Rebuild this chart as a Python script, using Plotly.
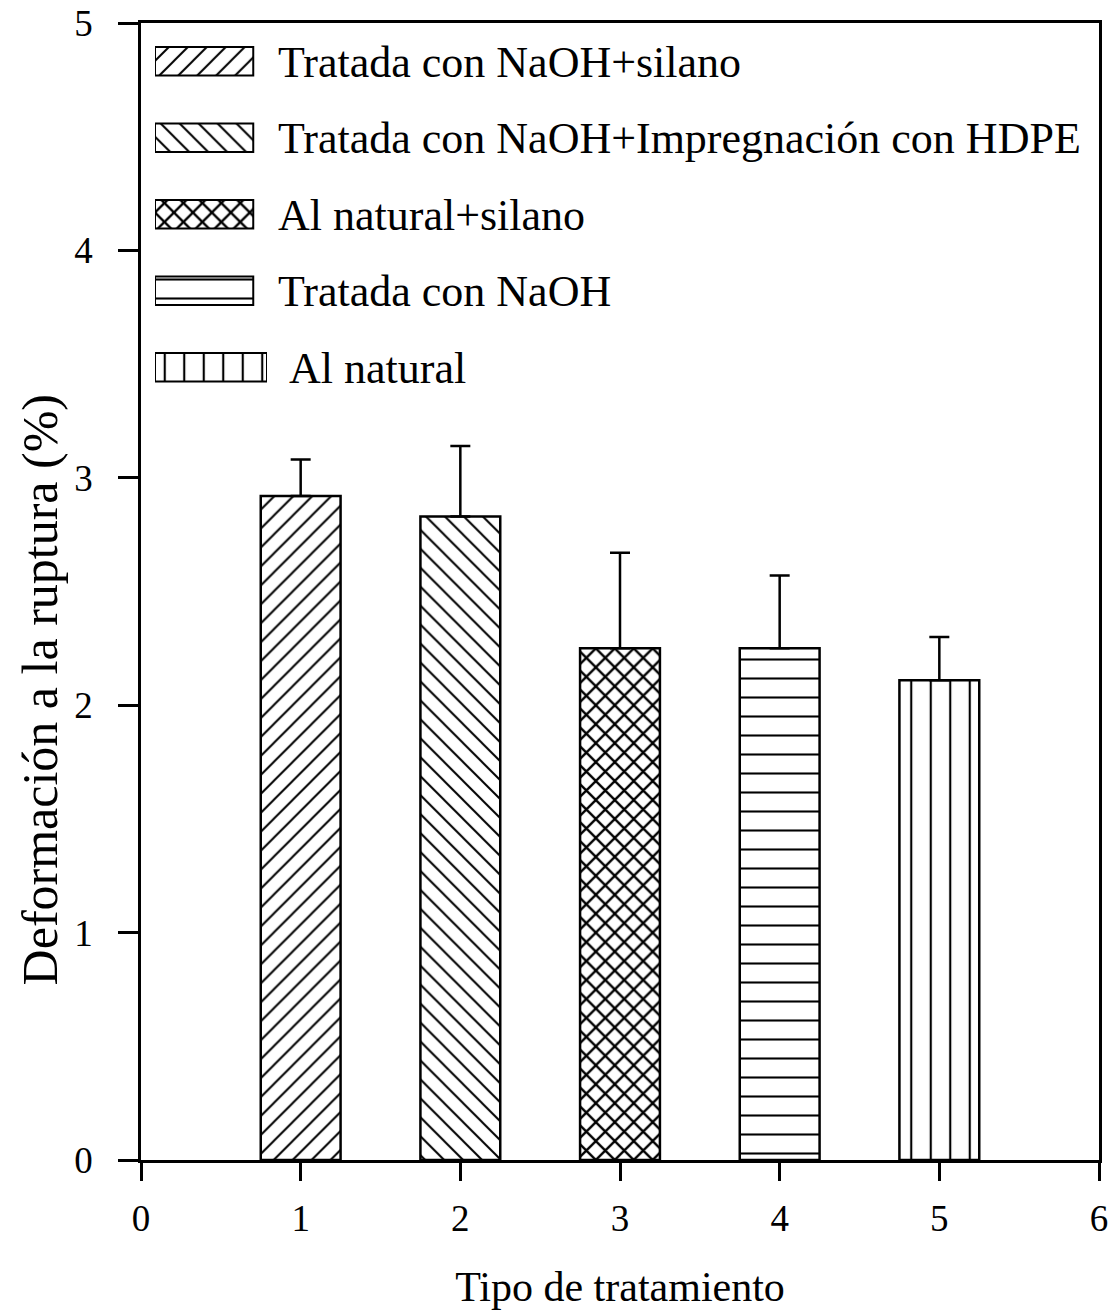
import plotly.graph_objects as go

# Treatment index on the x axis and strain at break (%) with its upward deviation
tratamiento = [1, 2, 3, 4, 5]
deformacion = [2.92, 2.83, 2.25, 2.25, 2.11]
desviacion = [0.16, 0.31, 0.42, 0.32, 0.19]

# Legend rows (top to bottom) and the hatch used by each treatment
leyenda = [
    "Tratada con NaOH+silano",
    "Tratada con NaOH+Impregnación con HDPE",
    "Al natural+silano",
    "Tratada con NaOH",
    "Al natural",
]
leyenda_texto = [
    "Tratada con NaOH+silano",
    "Tratada con NaOH+Impregnación con HDPE",
    "Al natural+silano",
    "Tratada con NaOH",
    "\u00a0Al natural",
]
tramas = ["/", "\\", "x", "-", "|"]
trama_tam = [13.4, 13.4, 13.4, 19, 19.5]
trama_solidez = [0.15, 0.15, 0.32, 0.11, 0.11]
muestra_largo = [1.0, 1.0, 1.0, 1.0, 1.14]

FONT = "Liberation Serif, Times New Roman, serif"
W, H = 1118, 1313
ML, MR, MT, MB = 141, 19, 23, 153
PW = W - ML - MR

patron = dict(shape=tramas, size=trama_tam, solidity=trama_solidez,
              fgcolor="black", bgcolor="white", fillmode="replace")

fig = go.Figure()

fig.add_trace(go.Bar(
    x=tratamiento, y=deformacion, width=0.5,
    marker=dict(color="white", pattern=patron, line=dict(color="black", width=2.5)),
    error_y=dict(type="data", symmetric=False, array=desviacion,
                 arrayminus=[0] * len(desviacion),
                 color="black", thickness=2.5, width=10),
    showlegend=False, hoverinfo="skip",
))

# Hatched swatches of the key, drawn on their own small axes
fig.add_trace(go.Bar(
    x=muestra_largo, y=leyenda, orientation="h", width=0.37,
    xaxis="x2", yaxis="y2",
    marker=dict(color="white", pattern=patron, line=dict(color="black", width=2)),
    showlegend=False, hoverinfo="skip",
))

axis_font = dict(family=FONT, size=37, color="black")

fig.update_layout(
    width=W, height=H,
    margin=dict(l=ML, r=MR, t=MT, b=MB),
    paper_bgcolor="white", plot_bgcolor="white",
    font=dict(family=FONT, color="black"),
    showlegend=False,
    xaxis=dict(
        range=[0, 6], tickvals=[0, 1, 2, 3, 4, 5, 6],
        showline=True, linecolor="black", linewidth=2.5, mirror=True,
        ticks="outside", ticklen=18, tickwidth=2.5, tickcolor="black",
        tickfont=axis_font, ticklabelstandoff=6,
        showgrid=False, zeroline=False, automargin=False,
        title=dict(text="Tipo de tratamiento", font=dict(family=FONT, size=42),
                   standoff=34),
    ),
    yaxis=dict(
        range=[0, 5], tickvals=[0, 1, 2, 3, 4, 5],
        showline=True, linecolor="black", linewidth=2.5, mirror=True,
        ticks="outside", ticklen=20, tickwidth=2.5, tickcolor="black",
        tickfont=axis_font, ticklabelstandoff=18,
        showgrid=False, zeroline=False, automargin=False,
    ),
    xaxis2=dict(
        domain=[(155 - ML) / PW, (267 - ML) / PW], range=[0, 1.14],
        anchor="y2", visible=False, fixedrange=True,
    ),
    yaxis2=dict(
        domain=[0.6636, 1.0], anchor="x2", side="right",
        type="category", categoryorder="array", categoryarray=leyenda,
        range=[4.5, -0.5],
        tickvals=leyenda, ticktext=leyenda_texto,
        tickfont=dict(family=FONT, size=44, color="black"),
        ticks="", ticklabelstandoff=10, automargin=False,
        showline=False, showgrid=False, zeroline=False, fixedrange=True,
    ),
    annotations=[dict(
        text="Deformación a la ruptura (%)", textangle=-90,
        xref="paper", yref="paper", x=(40 - ML) / PW, y=0.413,
        xanchor="center", yanchor="middle", showarrow=False,
        font=dict(family=FONT, size=50, color="black"),
    )],
)

fig.write_html("out.html")
